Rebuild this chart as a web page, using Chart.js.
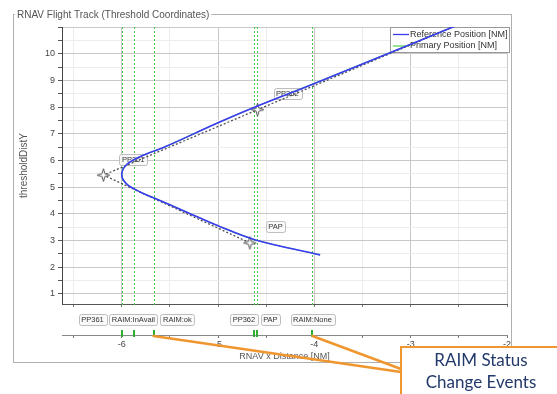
<!DOCTYPE html>
<html>
<head>
<meta charset="utf-8">
<script src="https://cdn.jsdelivr.net/npm/chart.js@4.4.1/dist/chart.umd.min.js"></script>
<style>
  html, body { margin: 0; padding: 0; background: #fff; }
</style>
</head>
<body>
<canvas id="trackChart" width="557" height="394"></canvas>
<script>
// RNAV track in threshold coordinates [NM]
const chartTitle = 'RNAV Flight Track (Threshold Coordinates)';

// Reference position track
const refX = [-3.94, -4.61, -5.00, -5.33, -5.67, -5.81, -5.95, -6.00, -5.95, -5.81, -5.55, -5.00, -4.61, -4.03, -2.50];
const refY = [2.46, 3.02, 3.55, 4.07, 4.60, 4.82, 5.12, 5.47, 5.84, 6.14, 6.51, 7.41, 8.01, 8.84, 11.09];

// Flight plan waypoints (last one is off the plot)
const planNames = ['PAP', 'PP361', 'PP362', ''];
const planX = [-4.67, -6.19, -4.59, -2.50];
const planY = [2.91, 5.45, 7.90, 11.10];

// Events along the x distance
const eventNames = ['PP361', 'RAIM:InAvail', 'RAIM:ok', 'PP362', 'PAP', 'RAIM:None'];
const eventX = [-6.00, -5.87, -5.67, -4.63, -4.60, -4.02];
const calloutEvents = ['RAIM:ok', 'RAIM:None'];
const calloutText = ['RAIM Status', 'Change Events'];

const xRange = [-6.62, -2];
const yRange = [0.62, 11];

const FONT = '"Liberation Sans", Arial, sans-serif';

function toPoints(xs, ys) {
    return xs.map((x, i) => ({ x: x, y: ys[i] }));
}

// small four-point star used for waypoints
function makeStar() {
    const c = document.createElement('canvas');
    c.width = 15; c.height = 15;
    const g = c.getContext('2d');
    g.translate(7.5, 7.5);
    g.beginPath();
    for (let i = 0; i < 8; i++) {
        const a = i * Math.PI / 4 - Math.PI / 2;
        const r = i % 2 ? 2 : 6.5;
        g.lineTo(Math.cos(a) * r, Math.sin(a) * r);
    }
    g.closePath();
    g.fillStyle = '#fff';
    g.fill();
    g.strokeStyle = '#555';
    g.lineWidth = 1;
    g.stroke();
    return c;
}

function halfTicks(from, to) {
    return scale => {
        scale.ticks = [];
        for (let v = from; v <= to + 1e-9; v += 0.5) scale.ticks.push({ value: v });
    };
}

function drawTag(ctx, text, x, cy, centered) {
    ctx.font = '7.5px ' + FONT;
    const w = ctx.measureText(text).width + 5;
    const h = 11;
    const left = centered ? x - w / 2 : x;
    ctx.beginPath();
    ctx.roundRect(Math.round(left) + 0.5, Math.round(cy - h / 2) + 0.5, Math.round(w), h, 2);
    ctx.fillStyle = 'rgba(250,250,250,0.9)';
    ctx.fill();
    ctx.strokeStyle = '#bdbdbd';
    ctx.lineWidth = 1;
    ctx.stroke();
    ctx.fillStyle = '#333';
    ctx.textAlign = 'center';
    ctx.textBaseline = 'middle';
    ctx.fillText(text, left + w / 2, cy + 0.5);
}

// spread labels so they don't overlap, groups centred on their anchors
function spreadLabels(items, gap) {
    let groups = items.map(it => [it]);
    const place = g => {
        const total = g.reduce((s, it) => s + it.w, 0) + gap * (g.length - 1);
        const mid = g.reduce((s, it) => s + it.anchor, 0) / g.length;
        let left = mid - total / 2;
        g.forEach(it => { it.cx = left + it.w / 2; left += it.w + gap; });
        return [mid - total / 2, mid + total / 2];
    };
    let merged = true;
    while (merged) {
        merged = false;
        for (let i = 0; i < groups.length - 1; i++) {
            const a = place(groups[i]), b = place(groups[i + 1]);
            if (b[0] < a[1] + gap) {
                groups.splice(i, 2, groups[i].concat(groups[i + 1]));
                merged = true;
                break;
            }
        }
    }
    groups.forEach(place);
    return items;
}

const trackDecor = {
    id: 'trackDecor',
    beforeDraw(chart) {
        const ctx = chart.ctx;
        const area = chart.chartArea;
        const x2 = chart.scales.x2;
        ctx.save();
        ctx.fillStyle = '#fff';
        ctx.fillRect(0, 0, chart.width, chart.height);
        // group box round the plot
        ctx.strokeStyle = '#b0b0b0';
        ctx.lineWidth = 1;
        ctx.strokeRect(13.5, 14.5, Math.round(area.right) + 4 - 13, Math.round(x2.bottom) - 14);
        ctx.font = '10px ' + FONT;
        const tw = ctx.measureText(chartTitle).width;
        ctx.fillStyle = '#fff';
        ctx.fillRect(15, 8, tw + 4, 13);
        ctx.fillStyle = '#555';
        ctx.textBaseline = 'middle';
        ctx.fillText(chartTitle, 17, 15);
        ctx.restore();
    },
    beforeDatasetsDraw(chart) {
        const ctx = chart.ctx;
        const area = chart.chartArea;
        const xs = chart.scales.x, ys = chart.scales.y;
        ctx.save();
        // event markers
        ctx.strokeStyle = '#45c845';
        ctx.lineWidth = 1;
        ctx.setLineDash([2, 2]);
        eventX.forEach(v => {
            const px = Math.round(xs.getPixelForValue(v)) + 0.5;
            ctx.beginPath();
            ctx.moveTo(px, area.top);
            ctx.lineTo(px, area.bottom + 3);
            ctx.stroke();
        });
        ctx.setLineDash([]);
        // waypoint tags
        planNames.forEach((name, i) => {
            if (!name) return;
            const px = xs.getPixelForValue(planX[i]);
            const py = ys.getPixelForValue(planY[i]);
            drawTag(ctx, name, px + 16, py - 16, false);
        });
        // legend box
        const lx = area.right - 117, ly = area.top;
        ctx.fillStyle = '#fff';
        ctx.fillRect(lx, ly, 119, 25);
        ctx.strokeStyle = '#999';
        ctx.lineWidth = 1;
        ctx.strokeRect(Math.round(lx) + 0.5, Math.round(ly) + 0.5, 119, 25);
        ctx.font = '9px ' + FONT;
        ctx.textBaseline = 'middle';
        ctx.textAlign = 'left';
        chart.data.datasets.filter(d => d.inLegend).forEach((d, i) => {
            const yy = ly + 7.5 + i * 11.5;
            ctx.strokeStyle = d.borderColor;
            ctx.lineWidth = 1.3;
            ctx.beginPath();
            ctx.moveTo(lx + 3, yy);
            ctx.lineTo(lx + 19, yy);
            ctx.stroke();
            ctx.fillStyle = '#333';
            ctx.fillText(d.label, lx + 20, yy);
        });
        ctx.restore();
    },
    afterDraw(chart) {
        const ctx = chart.ctx;
        const area = chart.chartArea;
        const xs = chart.scales.x, x2 = chart.scales.x2;
        ctx.save();
        // event tags between the axes
        ctx.font = '7.5px ' + FONT;
        const tags = spreadLabels(eventNames.map((n, i) => ({
            name: n,
            anchor: xs.getPixelForValue(eventX[i]),
            w: ctx.measureText(n).width + 5
        })), 3);
        const tagY = (area.bottom + x2.top) / 2;
        tags.forEach(t => drawTag(ctx, t.name, t.cx, tagY, true));
        // event ticks on the lower axis
        ctx.fillStyle = '#2fae2f';
        eventX.forEach(v => {
            const px = Math.round(x2.getPixelForValue(v));
            ctx.fillRect(px - 1, x2.top - 5, 2, 7);
        });
        // callout
        const bx = 401, by = 347;
        ctx.strokeStyle = '#f0962e';
        ctx.lineWidth = 2.5;
        ctx.lineCap = 'round';
        calloutEvents.forEach((n, k) => {
            const px = x2.getPixelForValue(eventX[eventNames.indexOf(n)]);
            ctx.beginPath();
            ctx.moveTo(px, x2.top + 1);
            ctx.lineTo(bx, by + 25 - k * 3);
            ctx.stroke();
        });
        ctx.fillStyle = '#fff';
        ctx.fillRect(bx, by, 162, 60);
        ctx.lineWidth = 2;
        ctx.strokeRect(bx, by, 162, 60);
        ctx.fillStyle = '#22396b';
        ctx.font = '17px Lato, "Open Sans", sans-serif';
        ctx.textAlign = 'center';
        ctx.textBaseline = 'middle';
        calloutText.forEach((t, i) => ctx.fillText(t, bx + 80, by + 14 + i * 22));
        ctx.restore();
    }
};

const gridColor = ctx => (ctx.tick && Number.isInteger(ctx.tick.value)) ? '#c8c8c8' : '#ececec';
const starImg = makeStar();

new Chart(document.getElementById('trackChart'), {
    type: 'scatter',
    data: {
        datasets: [
            {
                label: 'Reference Position [NM]',
                inLegend: true,
                data: toPoints(refX, refY),
                showLine: true,
                borderColor: '#3b3bf2',
                borderWidth: 1.6,
                pointRadius: 0,
                tension: 0.35,
                order: 0
            },
            {
                label: 'Primary Position [NM]',
                inLegend: true,
                data: toPoints(refX, refY),
                showLine: true,
                borderColor: '#5ad65a',
                borderWidth: 1.2,
                pointRadius: 0,
                tension: 0.35,
                order: 2
            },
            {
                label: 'Flight Plan',
                inLegend: false,
                data: toPoints(planX, planY),
                showLine: true,
                borderColor: '#505050',
                borderDash: [2, 2],
                borderWidth: 1.3,
                pointStyle: starImg,
                pointRadius: planNames.map(n => n ? 6 : 0),
                tension: 0,
                order: 1
            }
        ]
    },
    options: {
        responsive: false,
        animation: false,
        layout: { padding: { left: 18, right: 50, top: 27, bottom: 32 } },
        plugins: { legend: { display: false }, tooltip: { enabled: false } },
        scales: {
            x: {
                type: 'linear',
                position: 'bottom',
                weight: 1,
                min: xRange[0],
                max: xRange[1],
                afterBuildTicks: halfTicks(-6.5, -2),
                ticks: { display: false },
                grid: { color: gridColor, tickLength: 3, tickColor: '#777' },
                border: { color: '#555' },
                afterFit: s => { s.height = 31; }
            },
            x2: {
                type: 'linear',
                position: 'bottom',
                weight: 2,
                min: xRange[0],
                max: xRange[1],
                afterBuildTicks: halfTicks(-6.5, -2),
                ticks: {
                    autoSkip: false,
                    maxRotation: 0,
                    padding: 1,
                    color: '#444',
                    font: { family: FONT, size: 9 },
                    callback: v => Number.isInteger(v) ? v : ''
                },
                grid: { drawOnChartArea: false, tickLength: 3, tickColor: '#777' },
                border: { color: '#888' },
                title: {
                    display: true,
                    text: 'RNAV x Distance [NM]',
                    color: '#555',
                    font: { family: FONT, size: 9 },
                    padding: 0
                },
                afterFit: s => { s.height = 27; }
            },
            y: {
                type: 'linear',
                min: yRange[0],
                max: yRange[1],
                afterBuildTicks: halfTicks(1, 11),
                ticks: {
                    padding: 3,
                    color: '#444',
                    font: { family: FONT, size: 9 },
                    callback: v => (Number.isInteger(v) && v <= 10) ? v : ''
                },
                grid: { color: gridColor, tickLength: 4, tickColor: '#555' },
                border: { color: '#444' },
                title: {
                    display: true,
                    text: 'thresholdDistY',
                    color: '#555',
                    font: { family: FONT, size: 10 },
                    padding: 0
                },
                afterFit: s => { s.width = 44; }
            }
        }
    },
    plugins: [trackDecor]
});
</script>
</body>
</html>
